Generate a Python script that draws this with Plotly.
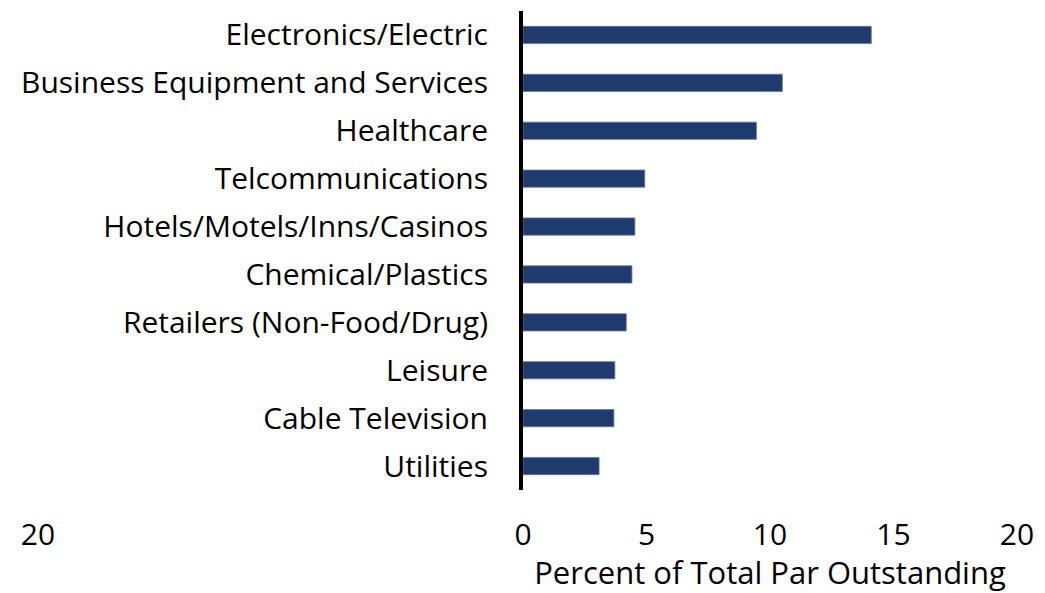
import plotly.graph_objects as go

# Sector shares of total par outstanding (percent), top to bottom
categories = [
    "Electronics/Electric",
    "Business Equipment and Services",
    "Healthcare",
    "Telcommunications",
    "Hotels/Motels/Inns/Casinos",
    "Chemical/Plastics",
    "Retailers (Non-Food/Drug)",
    "Leisure",
    "Cable Television",
    "Utilities",
]
percent_of_par = [14.1, 10.5, 9.45, 4.93, 4.53, 4.41, 4.18, 3.72, 3.68, 3.08]

# Right half axis (bars) and the mirrored, empty left half
tick_values = [0, 5, 10, 15, 20]
tick_labels = ["0", "5", "10", "15", "20"]
left_tick_values = [-20]
left_tick_labels = ["20"]

FONT = "'Open Sans', Lato, sans-serif"
FONT_SIZE = 30
BAR_COLOR = "#1f3b6e"

fig = go.Figure(
    go.Bar(
        x=percent_of_par,
        y=categories,
        orientation="h",
        width=0.36,
        marker=dict(color=BAR_COLOR, line=dict(color="#5f78a3", width=0.8)),
        hoverinfo="x+y",
    )
)

fig.update_layout(
    width=1045,
    height=593,
    margin=dict(l=29, r=28, t=11, b=103),
    paper_bgcolor="white",
    plot_bgcolor="white",
    showlegend=False,
    font=dict(family=FONT, size=FONT_SIZE, color="black"),
    xaxis=dict(
        domain=[0.5, 1.0],
        range=[0, 20],
        tickvals=tick_values,
        ticktext=tick_labels,
        showgrid=False,
        zeroline=False,
        showline=False,
        ticks="",
        ticklabelstandoff=24,
        tickfont=dict(size=FONT_SIZE),
        title=dict(text="Percent of Total Par Outstanding",
                   font=dict(size=31), standoff=9),
        automargin=False,
        fixedrange=True,
    ),
    xaxis2=dict(
        domain=[0.0, 0.5],
        range=[-20, 0],
        anchor="y",
        tickvals=left_tick_values,
        ticktext=left_tick_labels,
        showgrid=False,
        zeroline=False,
        showline=False,
        ticks="",
        ticklabelstandoff=24,
        ticklabelshift=9,
        tickfont=dict(size=FONT_SIZE),
        automargin=False,
        fixedrange=True,
    ),
    yaxis=dict(
        categoryorder="array",
        categoryarray=categories[::-1],
        range=[-0.5, len(categories) - 0.5],
        anchor="x",
        showline=True,
        linecolor="black",
        linewidth=4,
        showgrid=False,
        zeroline=False,
        ticks="",
        ticklabelstandoff=25,
        tickfont=dict(size=FONT_SIZE),
        automargin=False,
        fixedrange=True,
    ),
)

# Invisible trace to attach the left half axis
fig.add_trace(go.Scatter(x=[-20], y=[categories[-1]], xaxis="x2", yaxis="y",
                         mode="markers", marker=dict(opacity=0), hoverinfo="skip"))

fig.write_html("out.html")
